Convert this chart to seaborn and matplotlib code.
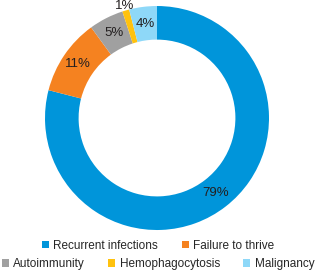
import numpy as np
import matplotlib
matplotlib.use("Agg")
import matplotlib.pyplot as plt
import seaborn as sns
from matplotlib.patches import Patch

# Data.
categories = ["Recurrent infections", "Failure to thrive", "Autoimmunity",
              "Hemophagocytosis", "Malignancy"]
shares = [79, 11, 5, 1, 4]
colors = ["#0095da", "#f58220", "#a0a0a0", "#ffc20e", "#8ed8f8"]

sns.set_theme(style="white")
plt.rcParams["font.family"] = ["Liberation Sans Narrow", "DejaVu Sans Condensed",
                               "Liberation Sans", "DejaVu Sans"]

fig = plt.figure(figsize=(3.16, 2.72), dpi=100)
ax = fig.add_axes([0.1424, 0.1544, 0.7089, 0.8235])

wedges, texts, autotexts = ax.pie(
    shares, colors=colors, startangle=90, counterclock=False,
    radius=1.0, wedgeprops=dict(width=0.30, linewidth=0),
    autopct="%1.0f%%", pctdistance=0.85,
    textprops=dict(fontsize=9.5, color="#231f20"))

# the tiny slice gets its label pushed outside the ring
small = int(np.argmin(shares))
w = wedges[small]
ang = np.deg2rad((w.theta1 + w.theta2) / 2)
autotexts[small].set_position((1.04 * np.cos(ang), 1.04 * np.sin(ang)))

ax.set_xlim(-1, 1)
ax.set_ylim(-1, 1)
ax.set_aspect("equal")
ax.axis("off")

handles = [Patch(facecolor=c, edgecolor="none") for c in colors]
leg_kw = dict(frameon=False, fontsize=8.5, handlelength=0.6, handleheight=0.6,
              handletextpad=0.35, columnspacing=2.0, borderpad=0, borderaxespad=0)
fig.legend(handles[:2], categories[:2], ncol=2, loc="center",
           bbox_to_anchor=(0.5, 0.097), **leg_kw)
fig.legend(handles[2:], categories[2:], ncol=3, loc="center",
           bbox_to_anchor=(0.5, 0.028), **leg_kw)

fig.savefig("out.png", dpi=100)
